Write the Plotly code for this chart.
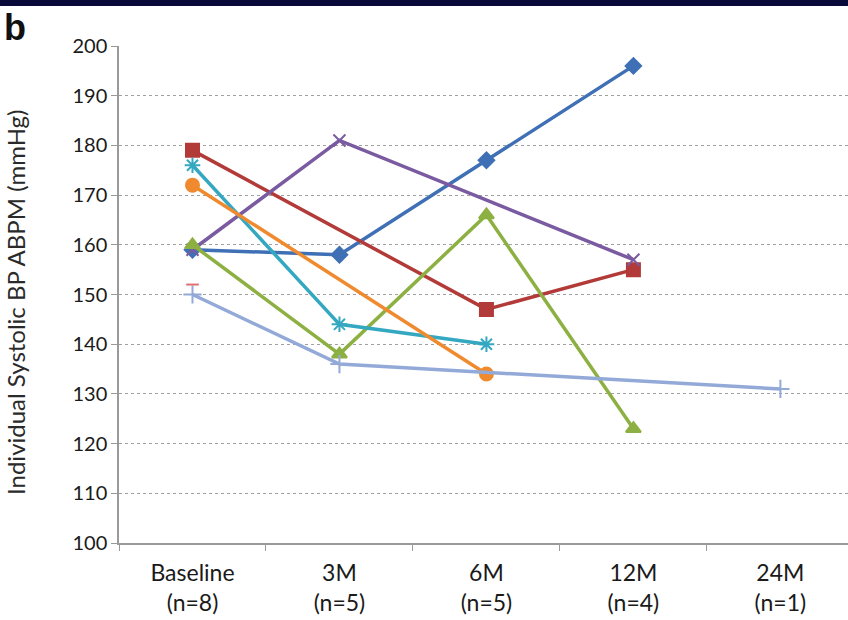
import plotly.graph_objects as go

categories = ["Baseline<br>(n=8)", "3M<br>(n=5)", "6M<br>(n=5)", "12M<br>(n=4)", "24M<br>(n=1)"]
y_ticks = [100, 110, 120, 130, 140, 150, 160, 170, 180, 190, 200]

patient1 = [159, 158, 177, 196, None]
patient2 = [179, None, 147, 155, None]
patient3 = [159, 181, None, 157, None]
patient4 = [160, 138, 166, 123, None]
patient5 = [176, 144, 140, None, None]
patient6 = [172, None, 134, None, None]
patient7 = [150, 136, None, None, 131]
patient8 = [152, None, None, None, None]

series = [
    (patient1, "#3f70b5", "diamond", 12, "P1"),
    (patient2, "#b23a38", "square", 13, "P2"),
    (patient3, "#7a5aa0", "x-thin-open", 12, "P3"),
    (patient4, "#8db043", "triangle-up", 13, "P4"),
    (patient5, "#33a8c0", "asterisk-open", 13, "P5"),
    (patient6, "#f08a2e", "circle", 13, "P6"),
    (patient7, "#93a9d8", "cross-thin-open", 13, "P7"),
    (patient8, "#e07070", "line-ew-open", 9, "P8"),
]

fig = go.Figure()
for vals, color, sym, size, name in series:
    fig.add_trace(go.Scatter(
        x=categories, y=vals, name=name, mode="lines+markers",
        connectgaps=True,
        line=dict(color=color, width=3.5),
        marker=dict(symbol=sym, size=size, color=color,
                    line=dict(color=color, width=2)),
    ))

fig.update_layout(
    width=848, height=620,
    margin=dict(l=119, r=0, t=46, b=77),
    paper_bgcolor="white", plot_bgcolor="white",
    showlegend=False,
    font=dict(family="Lato, Open Sans, sans-serif", color="#1a1a1a", size=20),
)
fig.update_xaxes(
    type="category", range=[-0.5, 4.46], automargin=False,
    tickson="boundaries", ticks="outside", ticklen=6, tickcolor="#9a9a9a",
    showline=True, linecolor="#9a9a9a", linewidth=1.5,
    showgrid=False, tickfont=dict(size=23), ticklabelstandoff=9,
)
fig.update_yaxes(
    range=[100, 200], tickvals=y_ticks, automargin=False,
    ticks="outside", ticklen=6, tickcolor="#9a9a9a",
    showline=True, linecolor="#9a9a9a", linewidth=1.5,
    showgrid=True, gridcolor="#a0a0a0", griddash="dot", gridwidth=1,
    zeroline=False, tickfont=dict(size=20),
)
fig.add_annotation(text="Individual Systolic BP ABPM (mmHg)", textangle=-90,
                   xref="paper", yref="paper", x=-104/729, y=(543 - 303) / 497,
                   xanchor="center", yanchor="middle", showarrow=False,
                   font=dict(size=24, color="#2a2a2a"))
fig.add_shape(type="rect", xref="paper", yref="paper", x0=-0.2, x1=1.05,
              y0=1.0 + 40/497, y1=1.0 + 52/497, fillcolor="#0a0a3a", line=dict(width=0), layer="above")
fig.add_annotation(text="<b>b</b>", xref="paper", yref="paper", x=-117/729, y=1.0 + 41/497,
                   xanchor="left", yanchor="top", showarrow=False,
                   font=dict(size=36, color="#111111", family="Liberation Sans, Arial"))

fig.write_html("out.html", config={"displayModeBar": False},
               post_script="document.body.style.margin='0';document.body.style.overflow='hidden';")
